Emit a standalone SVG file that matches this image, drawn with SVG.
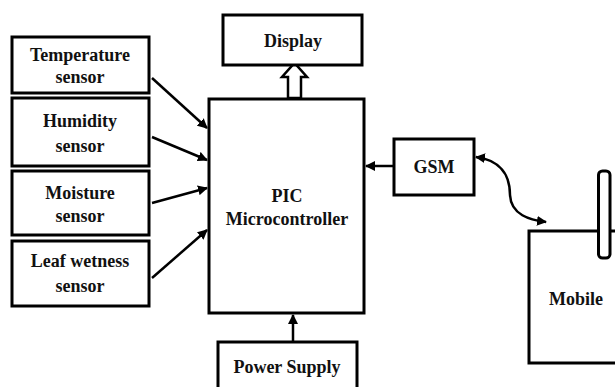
<svg xmlns="http://www.w3.org/2000/svg" width="615" height="387" viewBox="0 0 615 387">
<style>
.box{fill:#fff;stroke:#000;stroke-width:3}
.t{font-family:"Liberation Serif","Times New Roman",serif;font-weight:bold;font-size:18px;fill:#111;text-anchor:middle}
.c{fill:none;stroke:#000;stroke-width:2.5}
</style>
<defs>
<marker id="ah" viewBox="0 0 10 10" refX="9" refY="5" markerWidth="4" markerHeight="4" orient="auto-start-reverse" markerUnits="strokeWidth">
<path d="M0,0 L10,5 L0,10 Z" fill="#000"/>
</marker>
</defs>
<rect width="615" height="387" fill="#fff"/>
<g id="connectors">
<line class="c" x1="152" y1="78" x2="207" y2="128" marker-end="url(#ah)"/>
<line class="c" x1="152" y1="137" x2="207" y2="160" marker-end="url(#ah)"/>
<line class="c" x1="152" y1="203" x2="207" y2="188" marker-end="url(#ah)"/>
<line class="c" x1="152" y1="278" x2="207" y2="230" marker-end="url(#ah)"/>
<line class="c" x1="293" y1="342" x2="293" y2="315" marker-end="url(#ah)"/>
<line class="c" x1="394" y1="166" x2="366" y2="166" marker-end="url(#ah)"/>
<path class="c" d="M476,157 C500,160 510,175 510,195 C511,215 530,220 546,222" marker-start="url(#ah)" marker-end="url(#ah)"/>
<polygon points="288,98 288,77 282,77 294.5,63 307,77 301,77 301,98" fill="#fff" stroke="#000" stroke-width="2.5" stroke-linejoin="miter"/>
</g>
<g id="temperature"><rect class="box" x="12" y="37" width="137" height="56"/><text class="t" x="80" y="61">Temperature</text><text class="t" x="80" y="83">sensor</text></g>
<g id="humidity"><rect class="box" x="12" y="98" width="137" height="68"/><text class="t" x="80" y="127">Humidity</text><text class="t" x="80" y="152">sensor</text></g>
<g id="moisture"><rect class="box" x="12" y="171" width="137" height="64"/><text class="t" x="80" y="199">Moisture</text><text class="t" x="80" y="222">sensor</text></g>
<g id="leaf"><rect class="box" x="12" y="241" width="137" height="65"/><text class="t" x="80" y="267">Leaf wetness</text><text class="t" x="80" y="292">sensor</text></g>
<g id="display"><rect class="box" x="223" y="15" width="139" height="50"/><text class="t" x="293" y="47">Display</text></g>
<g id="pic"><rect class="box" x="209" y="99" width="155" height="214"/><text class="t" x="287" y="202">PIC</text><text class="t" x="287" y="225">Microcontroller</text></g>
<g id="power"><rect class="box" x="218" y="342" width="139" height="60"/><text class="t" x="287" y="373">Power Supply</text></g>
<g id="gsm"><rect class="box" x="394" y="139" width="80" height="56"/><text class="t" x="434" y="173">GSM</text></g>
<g id="mobile"><rect class="box" x="529" y="231" width="110" height="132"/><rect x="598.5" y="171" width="11.5" height="87" rx="4" fill="#fff" stroke="#000" stroke-width="3"/><text class="t" x="576" y="305">Mobile</text></g>
</svg>
